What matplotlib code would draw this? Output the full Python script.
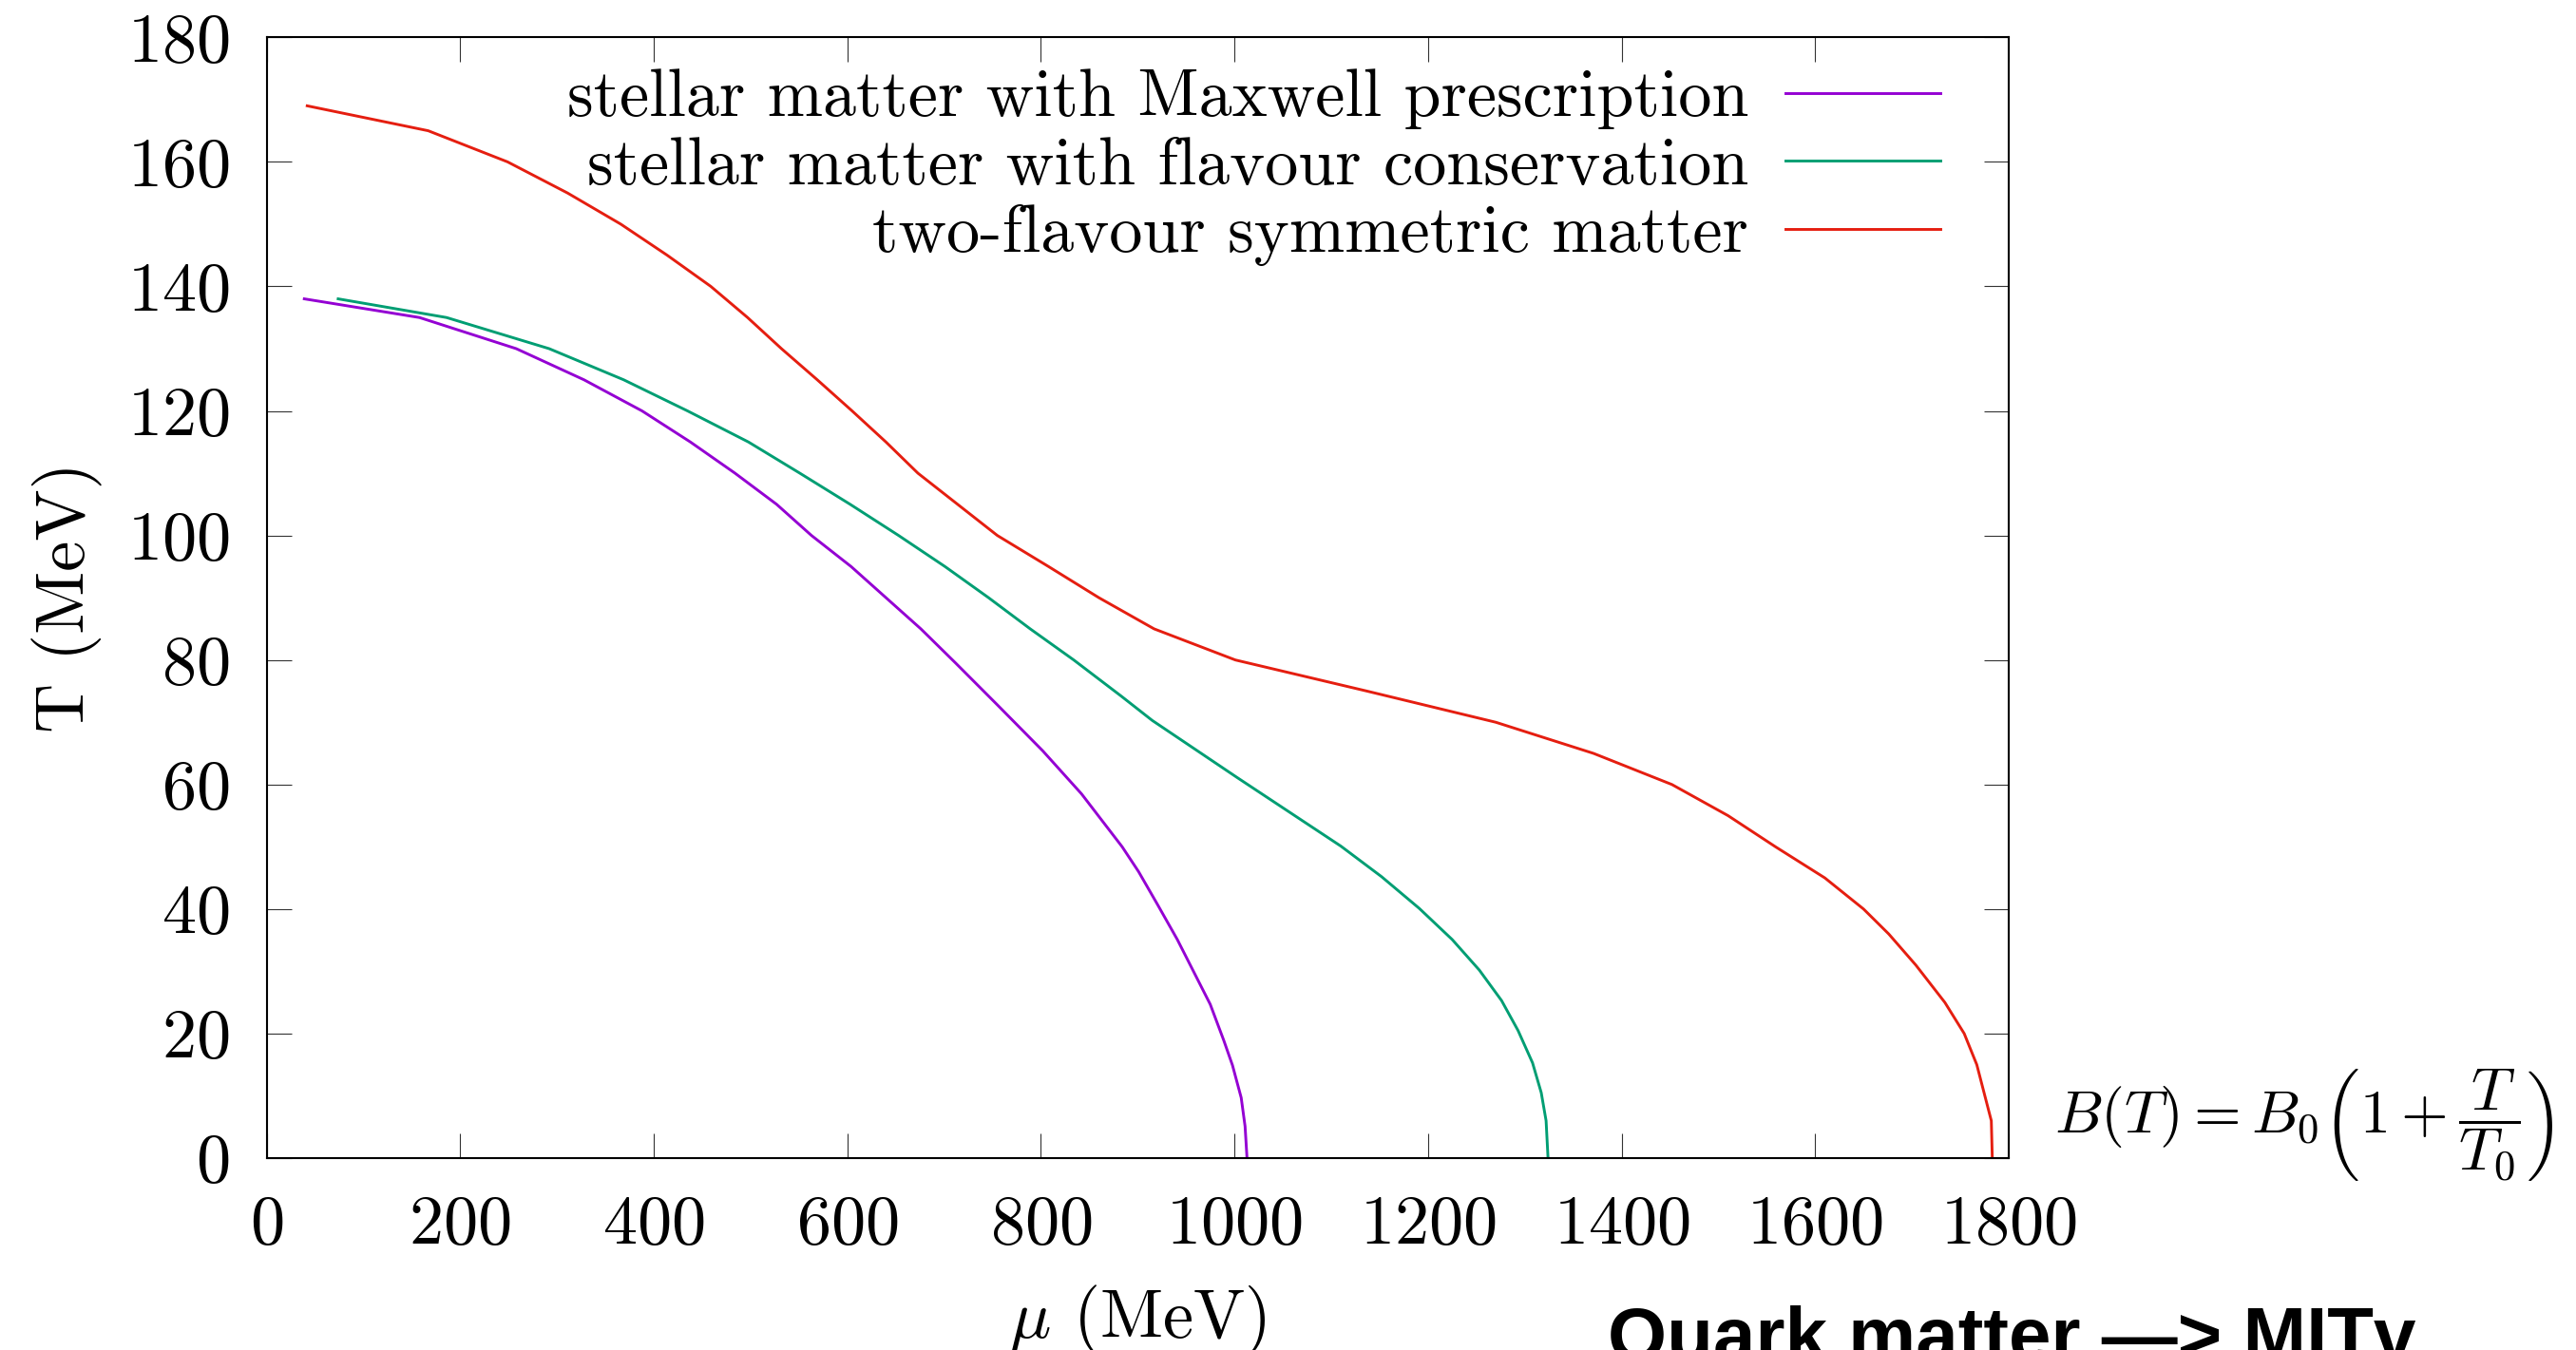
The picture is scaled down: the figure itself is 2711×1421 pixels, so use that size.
"""Phase boundary T(mu) for quark matter, MIT bag model with B(T)."""
import matplotlib
matplotlib.use("Agg")
import matplotlib.pyplot as plt

# stellar matter, Maxwell prescription
purple_mu = [39, 158, 258, 328, 388, 438, 484, 527, 563, 604, 640, 676, 712,
             755, 802, 842, 884, 901, 921, 941, 958, 975, 989, 998, 1007,
             1011, 1013]
purple_T = [138, 135, 130, 125, 120, 115, 110, 105, 100, 95, 90, 85, 79.5,
            72.8, 65.4, 58.5, 50.0, 46.0, 40.6, 35.1, 29.9, 24.7, 18.9, 14.9,
            9.7, 5.1, 0]

# stellar matter, flavour conservation
green_mu = [74, 186, 292, 369, 435, 498, 551, 603, 653, 701, 746, 789, 834,
            883, 915, 1003, 1110, 1152, 1191, 1225, 1253, 1276, 1293, 1308,
            1317, 1322, 1324]
green_T = [138, 135, 130, 125, 120, 115, 110, 105, 100, 95, 90, 85, 80,
           74.2, 70.3, 61.1, 50.1, 45.2, 40.1, 35.1, 30.2, 25.3, 20.5, 15.3,
           10.5, 6.0, 0]

# two-flavour symmetric matter
red_mu = [42, 167, 249, 311, 366, 414, 459, 497, 532, 569, 605, 640, 673,
          714, 755, 808, 860, 917, 1001, 1137, 1270, 1371, 1452, 1510, 1559,
          1610, 1650, 1676, 1704, 1734, 1754, 1767, 1782, 1783]
red_T = [169, 165, 160, 155, 150, 145, 140, 135, 130, 125, 120, 115, 110,
         105, 100, 95, 90, 85, 80, 75, 70, 65, 60, 55, 50, 45, 40, 36, 31,
         25, 20, 15, 6, 0]

labels = ["stellar matter with Maxwell prescription",
          "stellar matter with flavour conservation",
          "two-flavour symmetric matter"]
colors = ["#9400d3", "#009e73", "#e51e10"]

plt.rcParams["font.family"] = "serif"
plt.rcParams["font.serif"] = ["cmr10"]
plt.rcParams["mathtext.fontset"] = "cm"
plt.rcParams["axes.formatter.use_mathtext"] = True
plt.rcParams["axes.unicode_minus"] = False

fig = plt.figure(figsize=(27.11, 14.21), dpi=100)
ax = fig.add_axes([0.10347, 0.14215, 0.67632, 0.83019])

for mu, T, lab, col in zip([purple_mu, green_mu, red_mu],
                           [purple_T, green_T, red_T], labels, colors):
    ax.plot(mu, T, color=col, lw=2.1, label=lab)

ax.set_xlim(0, 1800)
ax.set_ylim(0, 180)
ax.set_xticks(range(0, 1801, 200))
ax.set_yticks(range(0, 181, 20))
ax.tick_params(direction="in", length=18.4, width=0.8, color="#333333",
               top=True, right=True, labelsize=52, pad=28)
for sp in ax.spines.values():
    sp.set_linewidth(1.5)

ax.set_xlabel(r"$\mu$ (MeV)", fontsize=52, labelpad=20)
ax.set_ylabel("T (MeV)", fontsize=52, labelpad=19)

ax.legend(loc="upper right", bbox_to_anchor=(0.9607, 0.972),
          markerfirst=False, frameon=False, fontsize=50.5,
          handlelength=2.33, handletextpad=0.55, labelspacing=0.11,
          borderpad=0, borderaxespad=0)

fig.text(0.7975, 0.1605, r"$B(T) = B_0\left(1+\dfrac{T}{T_0}\right)$",
         ha="left", va="baseline", fontsize=46)

fig.text(0.6240, -0.0077, "Quark matter \u2014> MITv", ha="left",
         va="baseline", fontsize=57.5, fontweight="bold",
         family=["Liberation Sans", "DejaVu Sans"])

fig.savefig("out.png", dpi=100)
